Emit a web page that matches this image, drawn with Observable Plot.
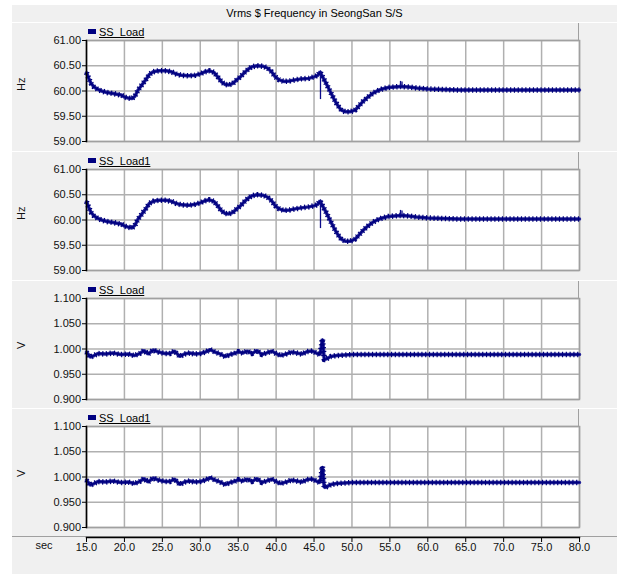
<!DOCTYPE html>
<html><head><meta charset="utf-8">
<script src="https://cdn.jsdelivr.net/npm/d3@7"></script>
<script src="https://cdn.jsdelivr.net/npm/@observablehq/plot@0.6"></script>
<style>
body{margin:0;background:#fff;font-family:"Liberation Sans",Arial,sans-serif;}
#root{position:relative;width:617px;height:574px;overflow:hidden;background:#fff}
.bg{position:absolute;left:12px;top:5px;width:605px;height:569px;background:#f0f0f0}
.sep{position:absolute;left:12px;width:605px;height:1px;background:#fff}
.title{position:absolute;left:12px;width:605px;top:5px;height:17px;line-height:17px;text-align:center;font-size:11px;color:#000}
.legend{position:absolute;left:86px;width:492px;height:17px;border-right:1px solid #a0a0a0;display:flex;align-items:center;font-size:11px;color:#000}
.sw{width:8px;height:5px;background:#000080;margin:0 3px 0 2px}
.lt{text-decoration:underline}
.pl{position:absolute;left:0}
</style></head>
<body><div id="root"><div class="bg"></div></div>
<script>
// ---- data ----
const title = "Vrms $ Frequency in SeongSan S/S";
const xTickValues = [15,20,25,30,35,40,45,50,55,60,65,70,75,80];
const freqTicks = [59.0,59.5,60.0,60.5,61.0];
const voltTicks = [0.90,0.95,1.00,1.05,1.10];
const seriesNames = ["SS_Load","SS_Load1","SS_Load","SS_Load1"];
const yUnits = ["Hz","Hz","V","V"];

const freqTime = [15.0,15.3,15.6,16.0,16.5,17.0,17.7,18.5,19.2,19.6,20.0,20.5,21.0,21.4,21.8,22.3,22.8,23.3,23.8,24.5,25.5,26.2,26.8,27.5,28.5,29.3,30.0,30.6,31.2,31.8,32.3,32.8,33.3,33.8,34.3,34.8,35.3,35.8,36.3,36.8,37.5,38.3,38.9,39.4,39.9,40.4,41.0,41.8,42.5,43.3,44.3,45.0,45.5,45.8,45.95,46.2,46.6,47.1,47.6,48.1,48.6,49.1,49.8,50.4,50.9,51.5,52.1,52.7,53.3,54.0,54.8,55.6,56.4,57.5,58.5,60.0,62.0,64.0,66.0,70.0,75.0,80.0];
const freqSSLoad = [60.36,60.25,60.15,60.08,60.03,60.00,59.97,59.95,59.93,59.92,59.88,59.86,59.85,59.90,60.02,60.12,60.22,60.33,60.38,60.40,60.40,60.38,60.34,60.31,60.30,60.31,60.34,60.38,60.40,60.37,60.28,60.18,60.13,60.12,60.15,60.22,60.28,60.36,60.43,60.48,60.50,60.49,60.45,60.38,60.28,60.22,60.19,60.20,60.22,60.24,60.25,60.28,60.31,60.38,60.33,60.26,60.15,60.00,59.85,59.72,59.62,59.59,59.59,59.62,59.70,59.80,59.88,59.95,60.00,60.04,60.07,60.08,60.09,60.08,60.06,60.04,60.03,60.02,60.02,60.02,60.02,60.02];
const freqSSLoad1 = [60.36,60.25,60.15,60.08,60.03,60.00,59.97,59.95,59.93,59.92,59.88,59.86,59.84,59.90,60.02,60.12,60.22,60.33,60.37,60.39,60.39,60.37,60.33,60.30,60.29,60.31,60.34,60.38,60.40,60.37,60.28,60.18,60.13,60.12,60.15,60.22,60.28,60.36,60.43,60.48,60.50,60.49,60.45,60.38,60.28,60.22,60.19,60.20,60.22,60.24,60.26,60.28,60.31,60.38,60.33,60.26,60.15,60.00,59.85,59.72,59.62,59.58,59.58,59.62,59.70,59.80,59.88,59.95,60.00,60.04,60.07,60.08,60.09,60.08,60.06,60.04,60.03,60.02,60.02,60.02,60.02,60.02];
const freqSpikeTime = [45.85, 56.4, 56.6];
const freqSpikeLow  = [59.83, 60.09, 60.09];
const freqSpikeHigh = [60.40, 60.19, 60.18];

const voltTime = [15.0,15.5,16.0,16.5,17.5,18.5,19.5,20.5,21.3,22.0,22.6,23.1,23.8,24.5,25.3,26.0,26.6,27.3,27.9,28.6,29.3,30.0,30.7,31.3,31.9,32.5,33.3,33.9,34.5,35.0,35.6,36.2,36.8,37.5,38.1,38.7,39.4,40.0,40.6,41.3,42.0,42.7,43.4,44.1,44.8,45.4,45.8,46.0,46.1,46.2,46.35,46.7,47.2,48.0,49.0,50.0,52.0,55.0,60.0,65.0,70.0,75.0,80.0];
const voltSSLoad = [0.994,0.984,0.987,0.991,0.990,0.992,0.989,0.990,0.987,0.991,0.997,0.990,0.998,0.994,0.991,0.991,0.996,0.985,0.990,0.992,0.990,0.991,0.994,0.999,0.994,0.991,0.985,0.989,0.991,0.995,0.992,0.996,0.991,0.997,0.989,0.992,0.996,0.991,0.987,0.990,0.994,0.992,0.990,0.995,0.996,0.991,0.989,1.008,1.020,1.005,0.979,0.981,0.985,0.987,0.988,0.989,0.989,0.989,0.989,0.989,0.989,0.989,0.989];
const voltSSLoad1 = [0.994,0.984,0.987,0.991,0.990,0.992,0.989,0.990,0.987,0.991,0.997,0.990,0.998,0.994,0.991,0.991,0.996,0.985,0.990,0.992,0.990,0.991,0.994,0.999,0.994,0.991,0.985,0.989,0.991,0.995,0.992,0.996,0.991,0.997,0.989,0.992,0.996,0.991,0.987,0.990,0.994,0.992,0.990,0.995,0.996,0.991,0.989,1.008,1.021,1.005,0.979,0.981,0.985,0.987,0.988,0.989,0.989,0.989,0.989,0.989,0.989,0.989,0.989];

// ---- build ----
const zip = (t, v) => t.map((d, i) => ({t: d, v: v[i]}));
const spikes = freqSpikeTime.map((d, i) => ({t: d, lo: freqSpikeLow[i], hi: freqSpikeHigh[i]}));
const root = document.getElementById("root");
const navy = "#0c0c8a";
const gridC = "#b0b0b0";
const fontFam = "'Liberation Sans', Arial, sans-serif";

function addDiv(cls, styleObj, html) {
  const d = document.createElement("div");
  d.className = cls;
  Object.assign(d.style, styleObj);
  if (html != null) d.innerHTML = html;
  root.appendChild(d);
  return d;
}

addDiv("title", {}, title);
const panelTops = [22, 151, 280, 408];
panelTops.forEach(s => addDiv("sep", {top: s + "px"}));
addDiv("sep", {top: "536px", background: "#a0a0a0"});

const panels = [
  {data: zip(freqTime, freqSSLoad), ticks: freqTicks, fmt: d3.format(".2f"), spikes},
  {data: zip(freqTime, freqSSLoad1), ticks: freqTicks, fmt: d3.format(".2f"), spikes},
  {data: zip(voltTime, voltSSLoad), ticks: voltTicks, fmt: d3.format(".3f"), spikes: []},
  {data: zip(voltTime, voltSSLoad1), ticks: voltTicks, fmt: d3.format(".3f"), spikes: []}
];

panels.forEach((p, i) => {
  const s = panelTops[i];
  const chart = Plot.plot({
    width: 617, height: 129,
    marginLeft: 86, marginRight: 38, marginTop: 18, marginBottom: 10,
    style: {background: "transparent", fontFamily: fontFam, fontSize: "11px", color: "#000", overflow: "visible"},
    x: {domain: [15, 80], axis: null},
    y: {domain: [p.ticks[0], p.ticks[p.ticks.length - 1]], axis: null},
    marks: [
      Plot.frame({fill: "white", stroke: null}),
      Plot.gridX(xTickValues, {stroke: gridC, strokeOpacity: 1, strokeWidth: 1.5}),
      Plot.gridY(p.ticks, {stroke: gridC, strokeOpacity: 1, strokeWidth: 1.5}),
      Plot.frame({stroke: "#a0a0a0", strokeWidth: 1.5}),
      Plot.line(p.data, {x: "t", y: "v", stroke: "#2a2a9c", strokeWidth: 3.5, strokeLinejoin: "miter"}),
      Plot.line(p.data, {x: "t", y: "v", stroke: "#00007a", strokeWidth: 5.5, strokeDasharray: "1.2 2.6", strokeLinecap: "butt"}),
      Plot.line(p.data, {x: "t", y: "v", stroke: "#000080", strokeWidth: 1.5}),
      Plot.ruleX(p.spikes, {x: "t", y1: "lo", y2: "hi", stroke: navy, strokeWidth: 1.3}),
      Plot.frame({anchor: "left", stroke: "#000", strokeWidth: 1.5}),
      Plot.axisY(p.ticks, {anchor: "left", tickSize: 4, tickPadding: 1.5, tickFormat: p.fmt, label: null, stroke: "#000", fill: "#111"}),
      Plot.text([yUnits[i]], {frameAnchor: "left", dx: -65, rotate: -90, fill: "#111", fontSize: 11})
    ]
  });
  chart.classList.add("pl");
  chart.style.top = s + "px";
  chart.style.position = "absolute";
  root.appendChild(chart);
  addDiv("legend", {top: (s + 1) + "px"}, `<span class="sw"></span><span class="lt">${seriesNames[i]}</span>`);
});

const xAxis = Plot.plot({
  width: 617, height: 38,
  marginLeft: 86, marginRight: 38, marginTop: 1, marginBottom: 37,
  style: {background: "transparent", fontFamily: fontFam, fontSize: "11px", color: "#000", overflow: "visible"},
  x: {domain: [15, 80], axis: null},
  marks: [
    Plot.frame({anchor: "bottom", stroke: "#000", strokeWidth: 1.5}),
    Plot.axisX(xTickValues, {anchor: "bottom", tickSize: 5, tickPadding: 1, tickFormat: d3.format(".1f"), label: null, stroke: "#000", fill: "#111"}),
    Plot.text(["sec"], {frameAnchor: "left", dx: -51, dy: 8, fill: "#111", fontSize: 11})
  ]
});
xAxis.style.position = "absolute";
xAxis.style.left = "0px";
xAxis.style.top = "536px";
root.appendChild(xAxis);
</script>
</body></html>
